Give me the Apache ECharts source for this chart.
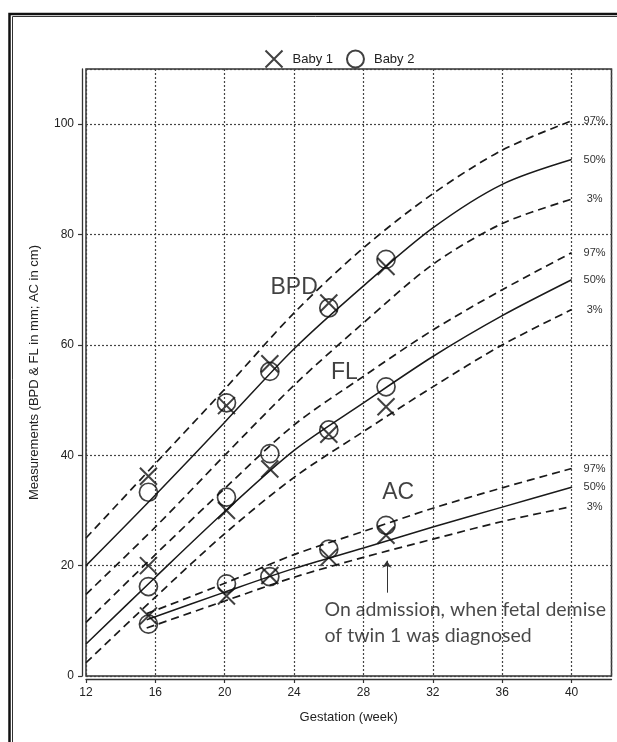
<!DOCTYPE html>
<html><head><meta charset="utf-8">
<script src="https://cdn.jsdelivr.net/npm/echarts@6/dist/echarts.min.js"></script>
<style>html,body{margin:0;padding:0;background:#fff}#c{width:617px;height:742px}</style>
</head><body><div id="c"></div>
<script>
// ---- reference percentile curves ----
const curveWeeks = [12, 16, 20, 24, 28, 32, 36, 40];
const bpd97 = [25, 38.5, 52, 65.8, 77.6, 87.4, 95.3, 100.6];
const bpd50 = [20, 32.8, 46, 59.3, 70.7, 81.2, 89.1, 93.6];
const bpd3  = [14.8, 27, 40, 52.7, 64, 74.6, 82.0, 86.4];
const fl97  = [9.7, 22, 34, 45.5, 54.3, 62.7, 70, 76.7];
const fl50  = [5.8, 17.9, 29.8, 40.9, 49.5, 57.9, 65.3, 71.8];
const fl3   = [2.4, 14.3, 25.8, 36, 44.3, 52.4, 60.0, 66.4];
const acWeeks = [15.5, 20, 24, 28, 32, 36, 40];
const ac97 = [11.3, 16.8, 22, 26.2, 30.4, 34.1, 37.6];
const ac50 = [10.2, 15.2, 19.5, 23.2, 27, 30.6, 34.2];
const ac3  = [8.7, 13.6, 17.9, 21.5, 24.8, 28.0, 30.7];
const pctLabels = ['97%', '50%', '3%'];

// ---- scan measurements ----
const scanWeeks = [15.6, 20.1, 22.6, 26.0, 29.3];
const bpdBaby1 = [36.2, 49.0, 56.6, 67.6, 74.2];
const bpdBaby2 = [33.3, 49.5, 55.2, 66.7, 75.5];
const flBaby1  = [20.0, 30.0, 37.5, 43.8, 48.8];
const flBaby2  = [16.2, 32.4, 40.3, 44.6, 52.4];
const acBaby1  = [10.9, 14.5, 18.2, 21.5, 25.5];
const acBaby2  = [9.4, 16.7, 18.0, 23.0, 27.3];

// ---- annotations ----
const groupNames = ['BPD', 'FL', 'AC'];
const groupNameWeek = [24.0, 26.9, 30.0];
const groupNameValue = [70.3, 55.0, 33.3];
const noteText = 'On admission, when fetal demise\nof twin 1 was diagnosed';
const noteWeek = 25.75;
const noteValue = 14.4;
const arrowWeek = 29.35;
const arrowFrom = 15.1;
const arrowTo = 20.9;

// ---- axes ----
const xMin = 12, xMax = 42.3, xStep = 4;
const yMin = 0, yMax = 110, yStep = 20;

const pairs = (xs, ys) => xs.map((x, i) => [x, ys[i]]);
const ink = '#1a1a1a';
const solid = { color: ink, width: 1.5, type: 'solid' };
const dashed = { color: ink, width: 1.7, type: [8, 5] };

function curve(xs, ys, label, isSolid) {
  return {
    type: 'line', data: pairs(xs, ys), smooth: 0.3,
    showSymbol: false, symbol: 'none', silent: true, z: 3,
    lineStyle: isSolid ? solid : dashed,
    endLabel: { show: true, formatter: label, distance: 23, align: 'center',
      fontFamily: 'Liberation Sans', fontSize: 11, color: '#333' }
  };
}

const xPath = 'path://M0,0L20,20M20,0L0,20';
const series = [
  curve(curveWeeks, bpd97, pctLabels[0], false),
  curve(curveWeeks, bpd50, pctLabels[1], true),
  curve(curveWeeks, bpd3, pctLabels[2], false),
  curve(curveWeeks, fl97, pctLabels[0], false),
  curve(curveWeeks, fl50, pctLabels[1], true),
  curve(curveWeeks, fl3, pctLabels[2], false),
  curve(acWeeks, ac97, pctLabels[0], false),
  curve(acWeeks, ac50, pctLabels[1], true),
  curve(acWeeks, ac3, pctLabels[2], false),
  {
    name: 'Baby 1', type: 'scatter', symbol: xPath, symbolSize: 17, z: 5,
    itemStyle: { color: 'none', borderColor: '#111', borderWidth: 2 },
    data: [].concat(pairs(scanWeeks, bpdBaby1), pairs(scanWeeks, flBaby1), pairs(scanWeeks, acBaby1))
  },
  {
    name: 'Baby 2', type: 'scatter', symbol: 'circle', symbolSize: 18, z: 5,
    itemStyle: { color: 'rgba(0,0,0,0)', borderColor: '#111', borderWidth: 1.7 },
    data: [].concat(pairs(scanWeeks, bpdBaby2), pairs(scanWeeks, flBaby2), pairs(scanWeeks, acBaby2))
  },
  {
    type: 'scatter', silent: true, symbol: 'circle', symbolSize: 1, z: 6,
    itemStyle: { color: 'rgba(0,0,0,0)' },
    label: { show: true, position: 'inside', formatter: '{b}', color: '#111',
      fontFamily: 'Liberation Sans', fontSize: 23 },
    data: groupNames.map((n, i) => ({ name: n, value: [groupNameWeek[i], groupNameValue[i]] }))
  },
  {
    type: 'scatter', silent: true, symbol: 'circle', symbolSize: 1, z: 6,
    itemStyle: { color: 'rgba(0,0,0,0)' },
    label: { show: true, position: 'inside', align: 'left', verticalAlign: 'top',
      formatter: noteText, color: '#1a1a1a', fontFamily: 'Lato', fontSize: 19.5, lineHeight: 26 },
    data: [[noteWeek, noteValue]],
    markLine: {
      silent: true, symbol: ['none', 'arrow'], symbolSize: 7,
      lineStyle: { color: '#333', width: 1, type: 'solid' },
      label: { show: false },
      data: [[{ coord: [arrowWeek, arrowFrom] }, { coord: [arrowWeek, arrowTo] }]]
    }
  }
];

const axisCommon = {
  axisLine: { show: true, onZero: false, lineStyle: { color: '#333', width: 1.3 } },
  axisTick: { show: true, length: 4, lineStyle: { color: '#333', width: 1.2 } },
  splitLine: { show: true, lineStyle: { color: '#444', width: 1.2, type: [2, 2] } },
  nameTextStyle: { fontFamily: 'Liberation Sans', fontSize: 13, color: '#222' }
};

const chart = echarts.init(document.getElementById('c'), null, { renderer: 'canvas' });
chart.setOption({
  animation: false,
  backgroundColor: '#fff',
  textStyle: { fontFamily: 'Liberation Sans' },
  legend: {
    data: ['Baby 1', 'Baby 2'], left: 258, top: 43,
    itemWidth: 17, itemHeight: 17, itemGap: 13,
    textStyle: { fontFamily: 'Liberation Sans', fontSize: 13, color: '#222', padding: [0, 0, 0, 5] }
  },
  grid: { left: 86, top: 69, right: 5.5, bottom: 66, show: true, borderColor: '#333', borderWidth: 1.5, backgroundColor: 'transparent' },
  xAxis: Object.assign({}, axisCommon, {
    type: 'value', min: xMin, max: xMax, interval: xStep, offset: 3,
    name: 'Gestation (week)', nameLocation: 'middle', nameGap: 32,
    axisLabel: { showMaxLabel: false, margin: 8, fontFamily: 'Liberation Sans', fontSize: 12, color: '#222' }
  }),
  yAxis: Object.assign({}, axisCommon, {
    type: 'value', min: yMin, max: yMax, interval: yStep, offset: 4,
    name: 'Measurements (BPD & FL in mm; AC in cm)', nameLocation: 'middle', nameGap: 41,
    axisLabel: { showMaxLabel: false, margin: 8, fontFamily: 'Liberation Sans', fontSize: 12, color: '#222' }
  }),
  graphic: [
    { type: 'rect', silent: true, shape: { x: 9.5, y: 14, width: 800, height: 900 },
      style: { fill: 'none', stroke: '#111', lineWidth: 2.5 } },
    { type: 'rect', silent: true, shape: { x: 12.5, y: 16.5, width: 800, height: 900 },
      style: { fill: 'none', stroke: '#333', lineWidth: 1 } }
  ],
  series: series
});
</script></body></html>
